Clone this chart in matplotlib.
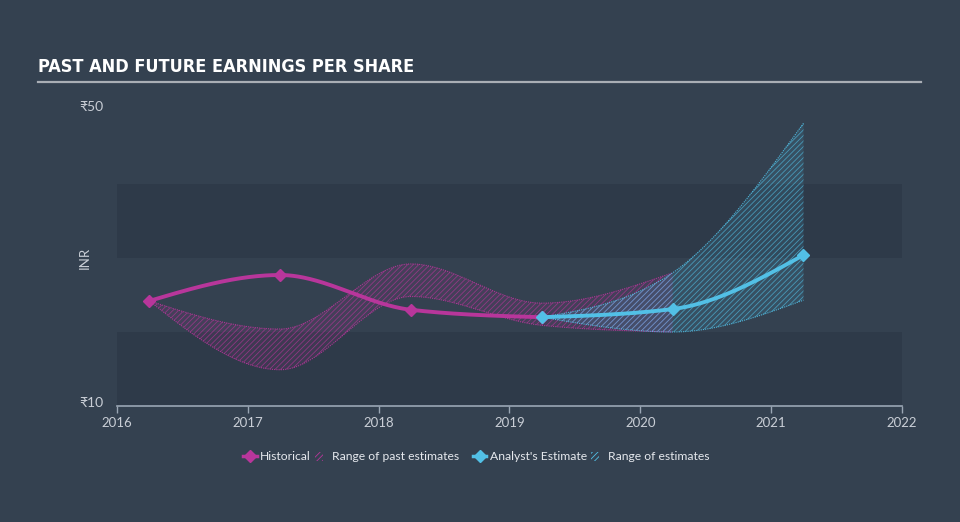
import numpy as np
import matplotlib
matplotlib.use("Agg")
import matplotlib.pyplot as plt
import matplotlib.transforms as mtransforms
from matplotlib import font_manager as fm
from matplotlib.font_manager import FontProperties
from matplotlib.lines import Line2D
from matplotlib.patches import Patch

# fiscal year ends (31 March) as decimal years
hist_x = [2016.247, 2017.247, 2018.247, 2019.247]
hist_eps = [24.2, 27.7, 23.0, 22.0]

past_x = [2016.247, 2017.247, 2018.247, 2019.247, 2020.247]
past_high = [24.2, 20.4, 29.2, 23.9, 28.0]
past_low = [24.2, 14.9, 24.8, 20.9, 20.0]

est_x = [2019.247, 2020.247, 2021.247]
est_eps = [22.0, 23.1, 30.4]
est_high = [22.0, 28.0, 48.2]
est_low = [22.0, 20.0, 24.3]

year_ticks = [2016, 2017, 2018, 2019, 2020, 2021, 2022]
y_ticks = [10, 50]
y_ticklabels = ["₹10", "₹50"]

BG = "#344150"
BAND = "#2e3a49"
PINK = "#b8369b"
BLUE = "#52c0e6"
TXT = "#c9ced6"
AXIS = "#9aa6b4"


def monotone(x, y, n=80):
    """Monotone cubic curve (like d3 curveMonotoneX) through the points."""
    x = np.asarray(x, float)
    y = np.asarray(y, float)
    h = np.diff(x)
    s = np.diff(y) / h
    m = np.zeros_like(y)
    for k in range(1, len(y) - 1):
        s0, s1 = s[k - 1], s[k]
        p = (s0 * h[k] + s1 * h[k - 1]) / (h[k - 1] + h[k])
        m[k] = (np.sign(s0) + np.sign(s1)) * min(abs(s0), abs(s1), 0.5 * abs(p))
    if len(y) > 2:
        m[0] = (3 * s[0] - m[1]) / 2
        m[-1] = (3 * s[-1] - m[-2]) / 2
    else:
        m[0] = m[-1] = s[0]
    xs, ys = [], []
    for k in range(len(h)):
        t = np.linspace(0, 1, n)
        h00 = 2 * t**3 - 3 * t**2 + 1
        h10 = t**3 - 2 * t**2 + t
        h01 = -2 * t**3 + 3 * t**2
        h11 = t**3 - t**2
        seg = h00 * y[k] + h10 * h[k] * m[k] + h01 * y[k + 1] + h11 * h[k] * m[k + 1]
        xs.append(x[k] + t * h[k])
        ys.append(seg)
    return np.concatenate(xs), np.concatenate(ys)


def narrow_bold(size):
    # pick a condensed bold face if one is installed
    for f in fm.fontManager.ttflist:
        narrow = ("Narrow" in f.name or "Condensed" in f.name
                  or f.stretch in ("condensed", "semi-condensed", "extra-condensed"))
        if narrow and f.weight in ("bold", 700):
            return FontProperties(fname=f.fname, size=size)
    return FontProperties(family="Roboto", weight="bold", size=size)


plt.rcParams["hatch.linewidth"] = 0.6
font = ["Lato", "DejaVu Sans"]

fig = plt.figure(figsize=(9.6, 5.22), dpi=100)
fig.patch.set_facecolor(BG)

ax = fig.add_axes([117 / 960, 1 - 406 / 522, 785 / 960, 296 / 522])
ax.set_facecolor(BG)
ax.set_xlim(2016, 2022)
ax.set_ylim(10, 50)

# alternating bands
ax.axhspan(10, 20, color=BAND, lw=0, zorder=0)
ax.axhspan(30, 40, color=BAND, lw=0, zorder=0)


def draw_range(x, lo, hi, color):
    cx, clo = monotone(x, lo)
    _, chi = monotone(x, hi)
    ax.fill_between(cx, clo, chi, facecolor=color, alpha=0.12, lw=0, zorder=1)
    ax.fill_between(cx, clo, chi, facecolor="none", edgecolor=color, hatch="//////",
                    lw=0, alpha=0.65, zorder=1)
    for c in (clo, chi):
        ax.plot(cx, c, color=color, lw=0.8, ls=(0, (1, 1)), alpha=0.9, zorder=2)


draw_range(past_x, past_low, past_high, PINK)
draw_range(est_x, est_low, est_high, BLUE)

hx, hy = monotone(hist_x, hist_eps)
ax.plot(hx, hy, color=PINK, lw=2.8, zorder=3, solid_capstyle="round")
ax.plot(hist_x, hist_eps, ls="none", marker="D", ms=6.5, color=PINK, zorder=4)

ex, ey = monotone(est_x, est_eps)
ax.plot(ex, ey, color=BLUE, lw=2.8, zorder=5, solid_capstyle="round")
ax.plot(est_x, est_eps, ls="none", marker="D", ms=6.5, color=BLUE, zorder=6)

for side in ("top", "right", "left"):
    ax.spines[side].set_visible(False)
ax.spines["bottom"].set_color(AXIS)
ax.spines["bottom"].set_linewidth(1.2)

ax.set_xticks(year_ticks)
ax.set_xticklabels([str(y) for y in year_ticks], fontfamily=font)
ax.tick_params(axis="x", colors=AXIS, labelcolor=TXT, length=5, width=1,
               labelsize=9.5, pad=3)
ax.set_yticks(y_ticks)
ax.set_yticklabels(y_ticklabels, fontfamily=font)
ax.tick_params(axis="y", length=0, labelcolor=TXT, labelsize=10, pad=10)
lift = mtransforms.ScaledTranslation(0, 3 / 100, fig.dpi_scale_trans)
for lbl in ax.get_yticklabels():
    lbl.set_va("center")
    lbl.set_transform(lbl.get_transform() + lift)
ax.set_ylabel("INR", color=TXT, fontsize=9.5, fontfamily=font)
ax.yaxis.set_label_coords(-0.034, 0.5)

# title and rule
fig.text(38 / 960, 1 - 67 / 522, "PAST AND FUTURE EARNINGS PER SHARE",
         fontproperties=narrow_bold(13), color="white", va="center", ha="left")
fig.add_artist(Line2D([38 / 960, 921 / 960], [1 - 82 / 522] * 2,
                      color="#a9aeb5", lw=1.6))

# legend in two groups
groups = [
    ([Line2D([], [], color=PINK, lw=2.5, marker="D", ms=6),
      Patch(facecolor="none", edgecolor=PINK, hatch="//////", lw=0)],
     ["Historical", "Range of past estimates"], 351 / 960),
    ([Line2D([], [], color=BLUE, lw=2.5, marker="D", ms=6),
      Patch(facecolor="none", edgecolor=BLUE, hatch="//////", lw=0)],
     ["Analyst's Estimate", "Range of estimates"], 591 / 960),
]
for handles, labels, cx in groups:
    leg = fig.legend(handles, labels, loc="center", bbox_to_anchor=(cx, 1 - 457 / 522),
                     ncol=2, frameon=False, handlelength=1.1, handletextpad=0.3,
                     columnspacing=0.3, borderpad=0,
                     prop={"family": font, "size": 8.7})
    for t in leg.get_texts():
        t.set_color("#e6e9ee")
    leg.legend_handles[1].set_width(6)

fig.savefig("out.png", dpi=100, facecolor=BG)
